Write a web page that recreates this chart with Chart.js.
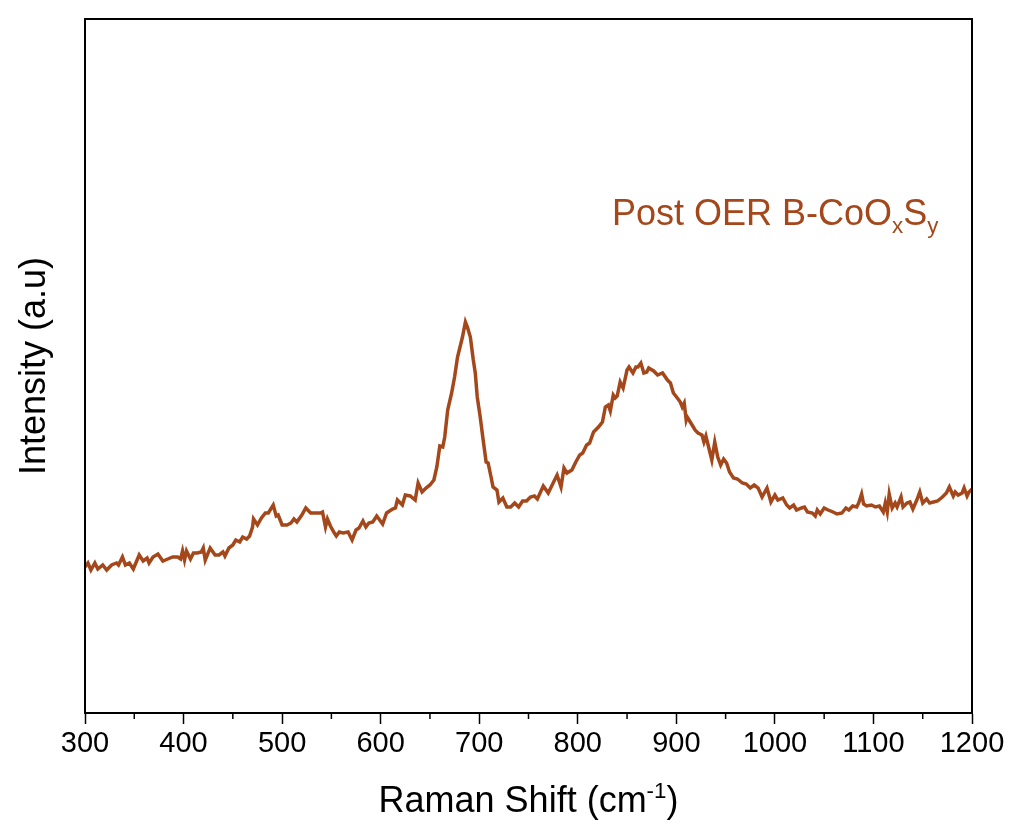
<!DOCTYPE html>
<html>
<head>
<meta charset="utf-8">
<script src="https://cdn.jsdelivr.net/npm/chart.js@4"></script>
<style>
  html, body { margin: 0; padding: 0; background: #fff; }
  #wrap { width: 1010px; height: 827px; }
</style>
</head>
<body>
<div id="wrap"><canvas id="raman"></canvas></div>
<script>
// Raman shift (cm-1) and intensity (a.u.)
const shift = [
  300, 303, 306, 310, 313, 318, 322, 327, 332, 334, 338, 341, 345, 349, 355, 359, 363, 365, 369, 374,
  379, 384, 389, 394, 397, 399, 401, 403, 407, 410, 414, 418, 420, 422, 427, 432, 436, 440, 442, 446,
  450, 453, 457, 460, 464, 467, 470, 471, 475, 479, 483, 486, 491, 494, 496, 500, 505, 509, 512, 515,
  520, 524, 529, 535, 539, 541, 544, 546, 549, 553, 555, 558, 562, 567, 571, 575, 578, 582, 585, 588,
  592, 596, 602, 606, 612, 615, 617, 622, 625, 630, 635, 638, 642, 646, 650, 654, 657, 660, 663, 665,
  668, 672, 675, 678, 683, 686, 688, 691, 694, 696, 698, 701, 704, 707, 709, 712, 714, 718, 720, 724,
  728, 732, 736, 740, 744, 748, 752, 756, 759, 765, 770, 775, 779, 783, 786, 789, 794, 798, 802, 805,
  809, 812, 816, 821, 825, 828, 831, 833, 836, 838, 840, 843, 846, 850, 852, 856, 859, 861, 864, 867,
  870, 872, 877, 881, 886, 891, 894, 897, 901, 904, 906, 908, 910, 911, 916, 919, 922, 926, 928, 930,
  933, 936, 939, 942, 945, 948, 951, 954, 958, 962, 967, 971, 975, 979, 983, 987, 992, 996, 1000, 1003,
  1008, 1012, 1015, 1019, 1022, 1027, 1030, 1033, 1038, 1041, 1043, 1046, 1050, 1054, 1059, 1063, 1068, 1072, 1075, 1079,
  1083, 1085, 1088, 1090, 1093, 1098, 1102, 1106, 1110, 1112, 1114, 1116, 1119, 1122, 1124, 1128, 1130, 1134, 1137, 1140,
  1144, 1147, 1150, 1154, 1157, 1161, 1165, 1170, 1174, 1177, 1181, 1183, 1186, 1190, 1192, 1195, 1197, 1200
];
const intensity = [
  146, 150, 143, 150, 144, 148, 143, 148, 150, 148, 156, 148, 150, 144, 158, 152, 155, 150, 156, 159,
  152, 154, 156, 156, 154, 162, 153, 162, 154, 160, 160, 161, 165, 153, 165, 158, 158, 161, 157, 165,
  168, 173, 171, 176, 174, 177, 186, 194, 188, 195, 200, 200, 208, 197, 198, 188, 188, 190, 194, 191,
  198, 205, 200, 200, 200, 201, 186, 194, 187, 180, 177, 181, 180, 181, 173, 183, 185, 192, 186, 190,
  191, 197, 189, 200, 204, 205, 213, 208, 218, 217, 213, 230, 221, 225, 228, 233, 246, 267, 266, 276,
  303, 320, 336, 356, 376, 391, 386, 376, 353, 340, 316, 296, 273, 251, 250, 236, 226, 223, 211, 215,
  206, 206, 210, 206, 212, 212, 216, 217, 214, 227, 220, 230, 238, 226, 245, 240, 243, 251, 258, 260,
  268, 270, 281, 286, 291, 306, 308, 302, 318, 315, 317, 331, 325, 343, 346, 340, 346, 346, 350, 340,
  341, 345, 342, 338, 340, 333, 330, 320, 315, 311, 306, 310, 293, 296, 288, 283, 280, 278, 271, 277,
  265, 253, 271, 256, 248, 254, 250, 241, 235, 234, 230, 229, 225, 228, 225, 216, 225, 211, 218, 213,
  215, 208, 205, 208, 203, 205, 206, 201, 200, 197, 203, 199, 205, 203, 201, 199, 200, 205, 203, 207,
  206, 210, 219, 209, 207, 208, 206, 207, 201, 210, 201, 219, 205, 210, 206, 216, 206, 210, 211, 204,
  213, 221, 210, 214, 210, 211, 212, 216, 220, 226, 217, 221, 218, 220, 225, 217, 221, 224
];
const xTicks = [300, 400, 500, 600, 700, 800, 900, 1000, 1100, 1200];
const xMinor = [350, 450, 550, 650, 750, 850, 950, 1050, 1150];

const lineColor = '#A4481B';
const fontFam = '"Liberation Sans", Arial, sans-serif';

// tekst met sub/superscript tekenen
function drawRich(ctx, parts, x, y, size, align) {
  const widths = parts.map(p => {
    ctx.font = (p.s ? size * 0.62 : size) + 'px ' + fontFam;
    return ctx.measureText(p.t).width;
  });
  const total = widths.reduce((a, b) => a + b, 0);
  let cx = align === 'center' ? x - total / 2 : x;
  parts.forEach((p, i) => {
    ctx.font = (p.s ? size * 0.62 : size) + 'px ' + fontFam;
    let dy = 0;
    if (p.s === 'sup') dy = -size * 0.38;
    if (p.s === 'sub') dy = size * 0.22;
    ctx.fillText(p.t, cx, y + dy);
    cx += widths[i];
  });
}

const decor = {
  id: 'decor',
  afterDraw(chart) {
    const ctx = chart.ctx;
    const a = chart.chartArea;
    const xs = chart.scales.x;
    ctx.save();
    // kader
    ctx.strokeStyle = '#000';
    ctx.lineWidth = 2;
    ctx.strokeRect(a.left, a.top, a.right - a.left, a.bottom - a.top);
    // kleine streepjes
    ctx.lineWidth = 1.5;
    xMinor.forEach(v => {
      const px = xs.getPixelForValue(v);
      ctx.beginPath();
      ctx.moveTo(px, a.bottom);
      ctx.lineTo(px, a.bottom + 6);
      ctx.stroke();
    });
    ctx.fillStyle = '#000';
    ctx.textBaseline = 'alphabetic';
    drawRich(ctx, [{ t: 'Raman Shift (cm' }, { t: '-1', s: 'sup' }, { t: ')' }],
      (a.left + a.right) / 2, 812, 36, 'center');
    ctx.save();
    ctx.translate(45, (a.top + a.bottom) / 2);
    ctx.rotate(-Math.PI / 2);
    ctx.textAlign = 'center';
    ctx.font = '36px ' + fontFam;
    ctx.fillText('Intensity (a.u)', 0, 0);
    ctx.restore();
    ctx.fillStyle = lineColor;
    drawRich(ctx, [{ t: 'Post OER B-CoO' }, { t: 'x', s: 'sub' }, { t: 'S' }, { t: 'y', s: 'sub' }],
      612, 225, 36, 'left');
    ctx.restore();
  }
};

new Chart(document.getElementById('raman'), {
  type: 'line',
  data: {
    datasets: [{
      data: shift.map((v, i) => ({ x: v, y: intensity[i] })),
      borderColor: lineColor,
      borderWidth: 3.5,
      pointRadius: 0,
      tension: 0,
      fill: false
    }]
  },
  options: {
    responsive: true,
    maintainAspectRatio: false,
    animation: false,
    layout: { padding: { top: 19, right: 38, left: 0, bottom: 0 } },
    plugins: { legend: { display: false }, tooltip: { enabled: false } },
    scales: {
      x: {
        type: 'linear',
        min: 300,
        max: 1200,
        afterBuildTicks: s => { s.ticks = xTicks.map(v => ({ value: v })); },
        afterFit: s => { s.height = 114; },
        ticks: {
          color: '#000',
          font: { family: fontFam, size: 29 },
          padding: 3,
          maxRotation: 0,
          autoSkip: false,
          callback: v => String(v)
        },
        grid: { drawOnChartArea: false, tickLength: 11, tickWidth: 1.5, tickColor: '#000' },
        border: { color: '#000', width: 2 }
      },
      y: {
        min: 0,
        max: 694,
        afterFit: s => { s.width = 85; },
        ticks: { display: false },
        grid: { display: false },
        border: { color: '#000', width: 2 }
      }
    }
  },
  plugins: [decor]
});
</script>
</body>
</html>
